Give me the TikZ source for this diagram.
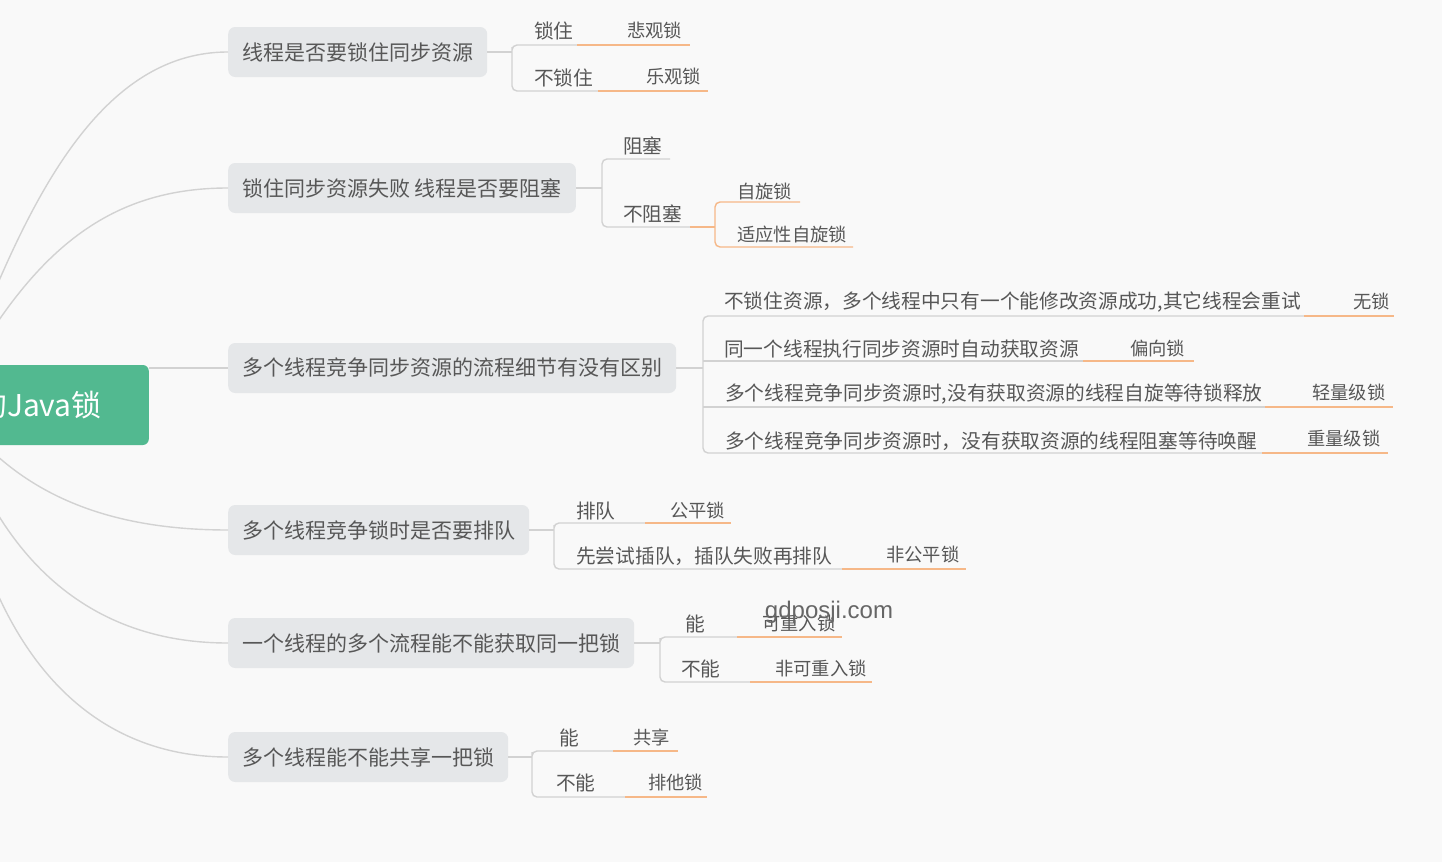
\documentclass[tikz,border=0pt]{standalone}
\usepackage{fontspec}
\setmainfont{Noto Sans CJK SC}
\newfontfamily\wmfont{Liberation Sans}
\definecolor{bgc}{HTML}{F9F9F9}
\definecolor{boxc}{HTML}{E5E7E9}
\definecolor{txtc}{HTML}{575757}
\definecolor{linec}{HTML}{D2D2D2}
\definecolor{orc}{HTML}{F6B888}
\definecolor{rootc}{HTML}{52B990}
\tikzset{
  mainbox/.style={anchor=west, fill=boxc, rounded corners=7pt, minimum height=50pt, inner xsep=14pt, inner ysep=0pt, text=txtc, font=\fontsize{21}{24}\selectfont},
  leaf/.style={anchor=west, inner sep=0pt, text=txtc, font=\fontsize{19.7}{22}\selectfont},
  gleaf/.style={anchor=west, inner sep=0pt, text=txtc, font=\fontsize{18.3}{21}\selectfont},
  gline/.style={draw=linec, line width=1.4pt, rounded corners=5pt},
  oline/.style={draw=orc, line width=1.4pt, rounded corners=5pt},
  curve/.style={draw=linec, line width=1.4pt},
  rootbox/.style={anchor=east, fill=rootc, rounded corners=6pt, minimum height=80pt, inner xsep=47pt, text=white, font=\fontsize{30}{34}\selectfont},
}
\begin{document}
\begin{tikzpicture}[x=1pt,y=-1pt]
\useasboundingbox (0,0) rectangle (1442,862);
\clip (0,0) rectangle (1442,862);
\fill[bgc] (0,0) rectangle (1442,862);

% main boxes
\node[mainbox] (b1) at (228,52) {线程是否要锁住同步资源};
\node[mainbox] (b2) at (228,188) {锁住同步资源失败 线程是否要阻塞};
\node[mainbox] (b3) at (228,368) {多个线程竞争同步资源的流程细节有没有区别};
\node[mainbox] (b4) at (228,530) {多个线程竞争锁时是否要排队};
\node[mainbox] (b5) at (228,643) {一个线程的多个流程能不能获取同一把锁};
\node[mainbox] (b6) at (228,757) {多个线程能不能共享一把锁};

% root
\coordinate (rc) at (-50,402);
\draw[curve] (rc) .. controls (10,250) and (80,52) .. (b1.west);
\draw[curve] (rc) .. controls (25,260) and (100,188) .. (b2.west);
\draw[curve] (rc) .. controls (10,490) and (100,530) .. (b4.west);
\draw[curve] (rc) .. controls (-5,560) and (90,643) .. (b5.west);
\draw[curve] (rc) .. controls (-25,640) and (80,757) .. (b6.west);
\node[rootbox] (root) at (149,405) {的Java锁};
\draw[curve] (root.east |- b3.west) -- (b3.west);

% branch 1
\coordinate (s1) at (512,52);
\node[leaf] (c11) at (534,31) {锁住};
\node[leaf] (c12) at (534,78) {不锁住};
\node[gleaf] (g11) at (627,30) {悲观锁};
\node[gleaf] (g12) at (646,76) {乐观锁};
\coordinate (u11) at (577,45); \coordinate (v11) at (690,45);
\coordinate (u12) at (598,91); \coordinate (v12) at (708,91);
\draw[gline] (b1.east) -- (s1);
\draw[gline] (u11) -| (s1) |- (u12);
\draw[oline] (u11) -- (v11);
\draw[oline] (u12) -- (v12);

% branch 2
\coordinate (s2) at (602,188);
\node[leaf] (c21) at (623,146) {阻塞};
\node[leaf] (c22) at (623,214) {不阻塞};
\coordinate (u21) at (670,159);
\coordinate (u22) at (690,227);
\draw[gline] (b2.east) -- (s2);
\draw[gline] (u21) -| (s2) |- (u22);
\coordinate (t2) at (715,227);
\node[gleaf] (g21) at (737,191) {自旋锁};
\node[gleaf] (g22) at (737,235) {适应性自旋锁};
\coordinate (v21) at (800,202);
\coordinate (v22) at (853,247);
\draw[oline] (u22) -- (t2);
\draw[oline] (v21) -| (t2) |- (v22);

% branch 3
\coordinate (s3) at (703,368);
\node[leaf] (c31) at (724,302) {不锁住资源，多个线程中只有一个能修改资源成功,其它线程会重试};
\node[leaf] (c32) at (724,349) {同一个线程执行同步资源时自动获取资源};
\node[leaf] (c33) at (725,394) {多个线程竞争同步资源时,没有获取资源的线程自旋等待锁释放};
\node[leaf] (c34) at (725,441) {多个线程竞争同步资源时，没有获取资源的线程阻塞等待唤醒};
\node[gleaf] (g31) at (1353,301) {无锁};
\node[gleaf] (g32) at (1130,348) {偏向锁};
\node[gleaf] (g33) at (1312,393) {轻量级锁};
\node[gleaf] (g34) at (1307,439) {重量级锁};
\coordinate (u31) at (1304,316); \coordinate (v31) at (1394,316);
\coordinate (u32) at (1083,361); \coordinate (v32) at (1194,361);
\coordinate (u33) at (1265,407); \coordinate (v33) at (1393,407);
\coordinate (u34) at (1262,453); \coordinate (v34) at (1388,453);
\draw[gline] (b3.east) -- (s3);
\draw[gline] (u31) -| (s3) |- (u34);
\draw[gline] (s3 |- u32) -- (u32);
\draw[gline] (s3 |- u33) -- (u33);
\draw[oline] (u31) -- (v31);
\draw[oline] (u32) -- (v32);
\draw[oline] (u33) -- (v33);
\draw[oline] (u34) -- (v34);

% branch 4
\coordinate (s4) at (554,530);
\node[leaf] (c41) at (576,511) {排队};
\node[leaf] (c42) at (576,556) {先尝试插队，插队失败再排队};
\node[gleaf] (g41) at (670,510) {公平锁};
\node[gleaf] (g42) at (886,554) {非公平锁};
\coordinate (u41) at (645,523); \coordinate (v41) at (731,523);
\coordinate (u42) at (842,569); \coordinate (v42) at (966,569);
\draw[gline] (b4.east) -- (s4);
\draw[gline] (u41) -| (s4) |- (u42);
\draw[oline] (u41) -- (v41);
\draw[oline] (u42) -- (v42);

% branch 5
\coordinate (s5) at (660,643);
\node[leaf] (c51) at (685,624) {能};
\node[leaf] (c52) at (681,669) {不能};
\node[gleaf] (g51) at (762,623) {可重入锁};
\node[gleaf] (g52) at (775,668) {非可重入锁};
\coordinate (u51) at (737,637); \coordinate (v51) at (842,637);
\coordinate (u52) at (750,682); \coordinate (v52) at (872,682);
\draw[gline] (b5.east) -- (s5);
\draw[gline] (u51) -| (s5) |- (u52);
\draw[oline] (u51) -- (v51);
\draw[oline] (u52) -- (v52);

% branch 6
\coordinate (s6) at (532,757);
\node[leaf] (c61) at (559,738) {能};
\node[leaf] (c62) at (556,783) {不能};
\node[gleaf] (g61) at (633,737) {共享};
\node[gleaf] (g62) at (648,782) {排他锁};
\coordinate (u61) at (613,751); \coordinate (v61) at (678,751);
\coordinate (u62) at (625,797); \coordinate (v62) at (707,797);
\draw[gline] (b6.east) -- (s6);
\draw[gline] (u61) -| (s6) |- (u62);
\draw[oline] (u61) -- (v61);
\draw[oline] (u62) -- (v62);

% watermark
\node[anchor=center, inner sep=0pt, text=black!60, font=\wmfont\fontsize{24}{26}\selectfont] (wm) at (829,612) {gdposji.com};
\end{tikzpicture}
\end{document}
